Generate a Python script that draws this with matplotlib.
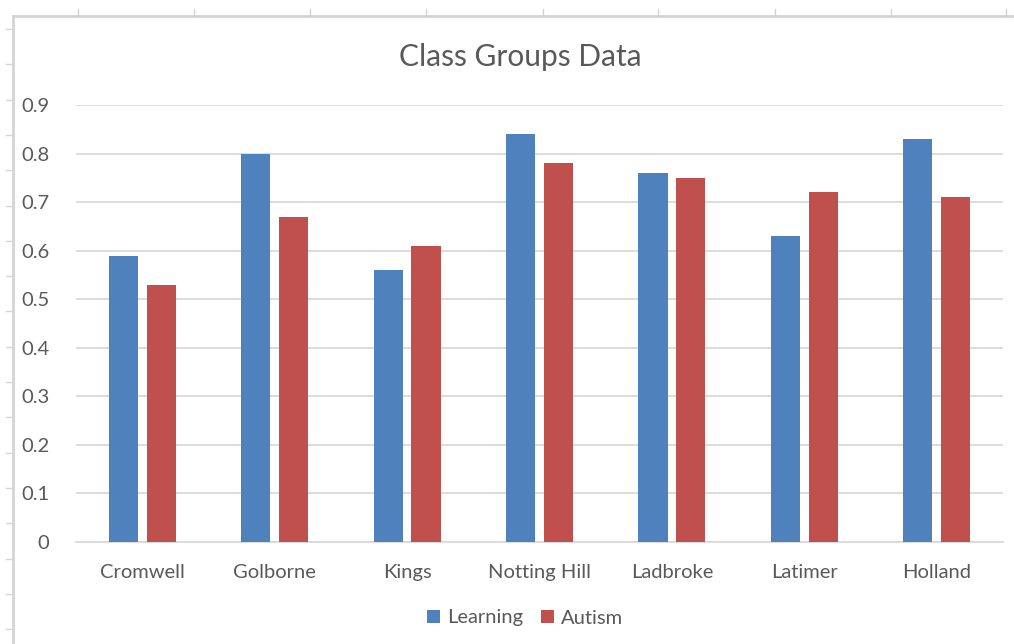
import matplotlib
matplotlib.use("Agg")
import matplotlib.pyplot as plt
import numpy as np
from matplotlib.lines import Line2D

categories = ["Cromwell", "Golborne", "Kings", "Notting Hill", "Ladbroke", "Latimer", "Holland"]
learning = [0.59, 0.80, 0.56, 0.84, 0.76, 0.63, 0.83]
autism = [0.53, 0.67, 0.61, 0.78, 0.75, 0.72, 0.71]
yticks = [0, 0.1, 0.2, 0.3, 0.4, 0.5, 0.6, 0.7, 0.8, 0.9]

blue = "#4F81BD"
red = "#C0504D"
txt = "#595959"
grid = "#D9D9D9"

plt.rcParams['font.family'] = ['Lato', 'DejaVu Sans']

W, H = 1014, 644
fig = plt.figure(figsize=(W / 100, H / 100), dpi=100)

# spreadsheet edge behind the chart
def fx(px):
    return px / W

def fy(py):
    return 1 - py / H

fig.add_artist(Line2D([fx(13), fx(13)], [fy(16), 0], color="#D4D4D4", lw=2))
fig.add_artist(Line2D([fx(13), 1], [fy(16), fy(16)], color="#D4D4D4", lw=2))
for cx in [78, 194, 310, 426, 543, 658, 775, 891, 1006]:
    fig.add_artist(Line2D([fx(cx), fx(cx)], [fy(9), fy(16)], color="#D4D4D4", lw=1))
for ry in np.arange(29, 644, 35.3):
    fig.add_artist(Line2D([fx(6), fx(13)], [fy(ry), fy(ry)], color="#D4D4D4", lw=1))

ax = fig.add_axes([fx(76), fy(542), fx(1003) - fx(76), fy(105) - fy(542)])

x = np.arange(len(categories))
w = 0.22
ax.bar(x - 0.143, learning, w, color=blue, label="Learning", zorder=3)
ax.bar(x + 0.143, autism, w, color=red, label="Autism", zorder=3)

ax.set_xlim(-0.5, len(categories) - 0.5)
ax.set_ylim(0, 0.9)
ax.set_yticks(yticks)
ax.set_yticklabels(["0" if v == 0 else f"{v:.1f}" for v in yticks])
ax.set_xticks(x)
ax.set_xticklabels(categories)
ax.yaxis.grid(True, color=grid, lw=1.3, zorder=0)
ax.tick_params(axis="both", length=0, colors=txt, labelsize=14.5)
ax.tick_params(axis="y", pad=19)
ax.tick_params(axis="x", pad=15.5)
for s in ["top", "right", "left"]:
    ax.spines[s].set_visible(False)
ax.spines["bottom"].set_color(grid)
ax.spines["bottom"].set_linewidth(1.3)

fig.text(fx(520), fy(57), "Class Groups Data", ha="center", va="center", fontsize=21.5, color=txt)

ax.legend(loc="center", bbox_to_anchor=(fx(525), fy(618)), bbox_transform=fig.transFigure,
          ncol=2, frameon=False, fontsize=14.5, labelcolor=txt, handlelength=0.65,
          handleheight=0.65, handletextpad=0.35, columnspacing=0.9)

fig.savefig("out.png", dpi=100)
